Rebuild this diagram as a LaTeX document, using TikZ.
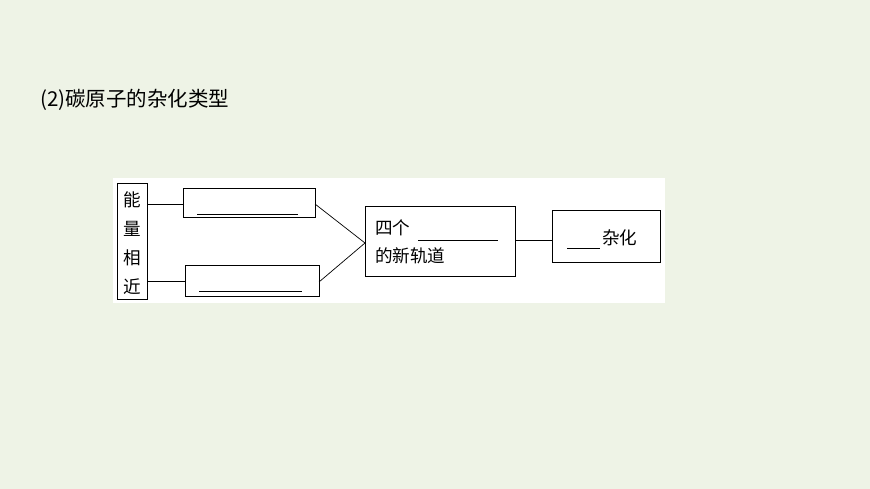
\documentclass[tikz,border=0pt]{standalone}
\usepackage{fontspec}
\newfontfamily\cjk{Noto Sans CJK SC}
\definecolor{bgreen}{HTML}{EEF3E6}
\tikzset{boxtext/.style={anchor=west, inner sep=0pt, font=\cjk\fontsize{15}{17}\selectfont}}
\begin{document}
\begin{tikzpicture}[x=0.03cm,y=-0.03cm]
 	\fill [bgreen] (0,0) rectangle (870,489);
 	\useasboundingbox (0,0) rectangle (870,489);
 	\fill [white] (113,178) rectangle (665,303);
 	
 	\node [anchor=west, font=\cjk\fontsize{17.5}{20}\selectfont] (title) at (36,100) {(2)碳原子的杂化类型};
 	
 	\draw [thick] (117,183) rectangle (147,299);
 	\node [align=center, font=\cjk\fontsize{15}{24.6}\selectfont] (near) at (132,243) {能\\量\\相\\近};
 	
 	\draw [thick] (183,188) rectangle (315,217);
 	\draw [semithick] (197,214) -- (298,214);
 	\draw [thick] (185,265) rectangle (319,296);
 	\draw [semithick] (199,291) -- (302,291);
 	\draw [thick] (365,206) rectangle (515,276);
 	\draw [thick] (552,210) rectangle (660,262);
 	
 	\node [boxtext] (four) at (375,228) {四个};
 	\draw [semithick] (418,240) -- (498,240);
 	\node [boxtext] (orb) at (375,256) {的新轨道};
 	\draw [semithick] (567,248) -- (600,248);
 	\node [boxtext] (hyb) at (602,238) {杂化};
 	
 	\draw [semithick] (147,204) -- (183,204);
 	\draw [semithick] (147,281) -- (185,281);
 	\draw [semithick] (315,204) -- (365,243) -- (319,282);
 	\draw [semithick] (515,240) -- (552,240);
\end{tikzpicture}
\end{document}
